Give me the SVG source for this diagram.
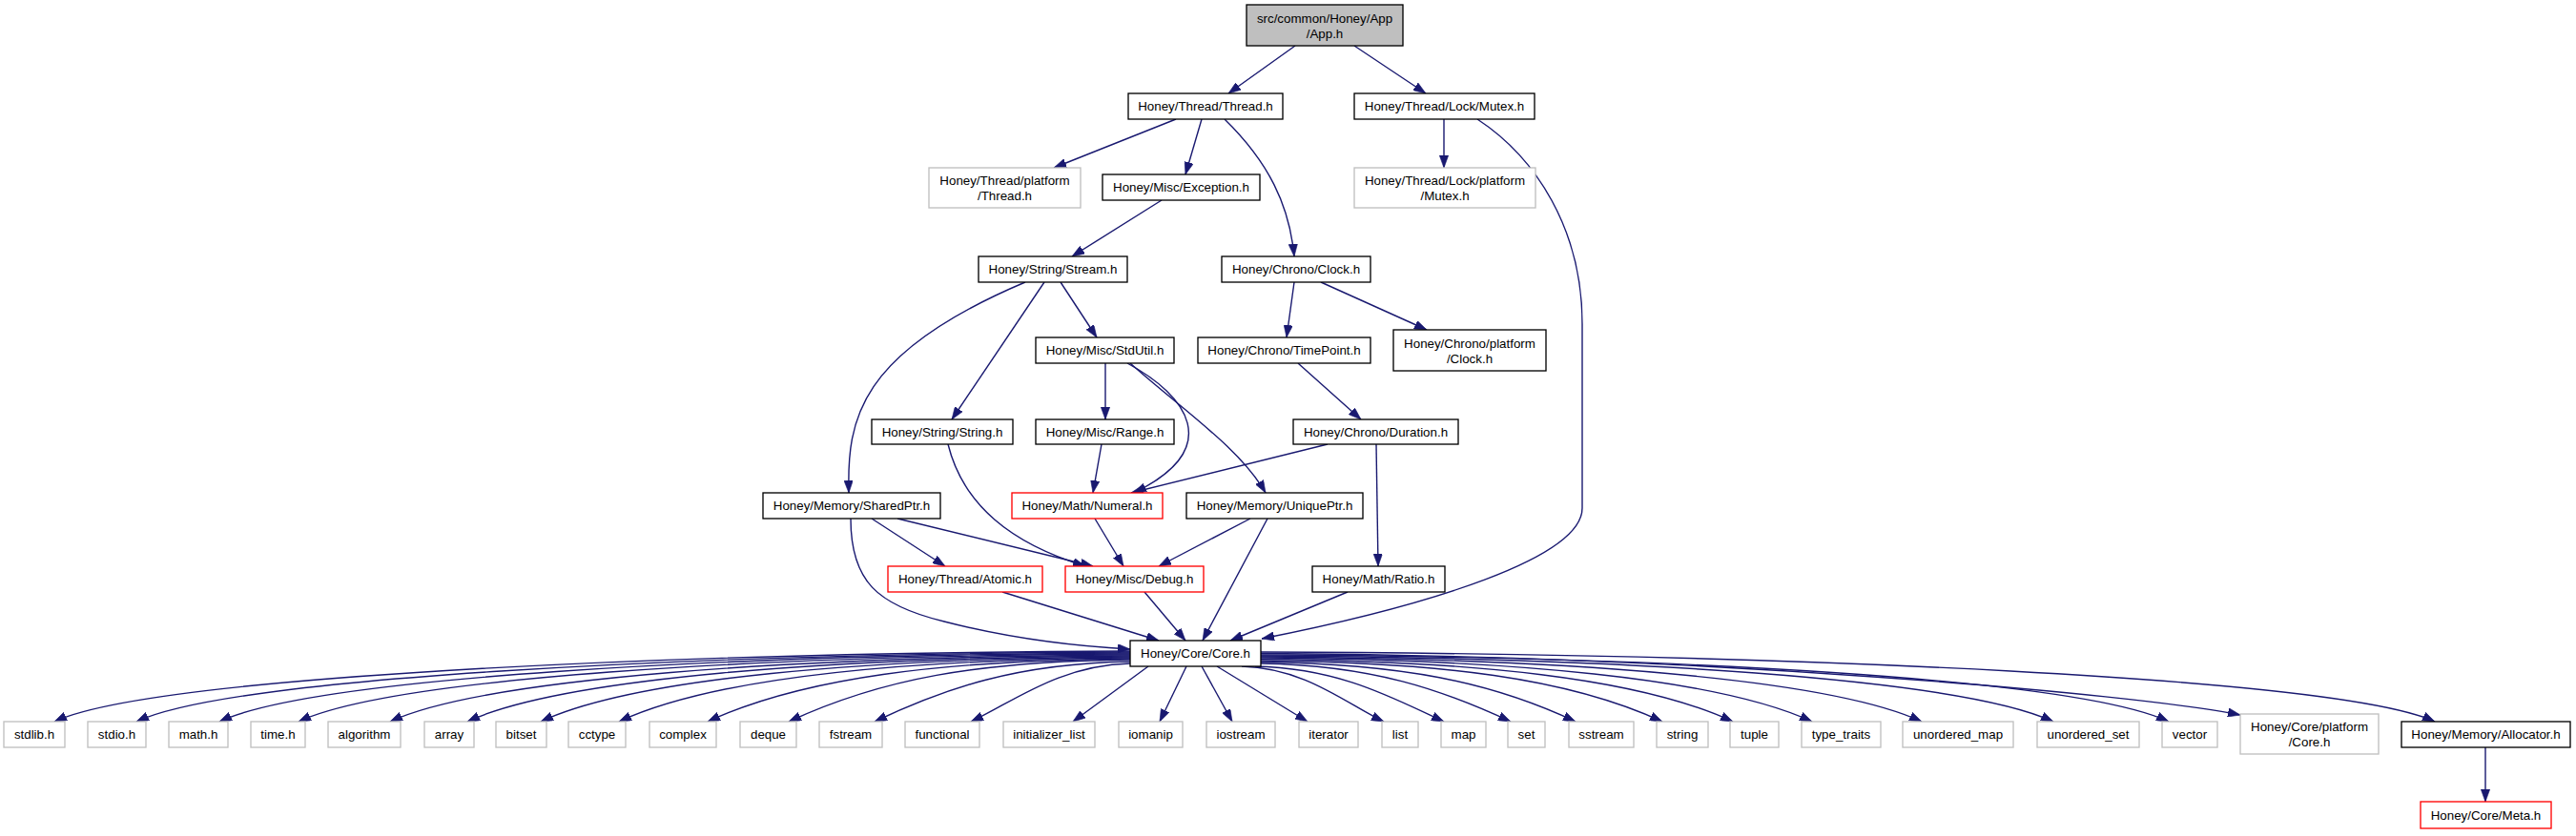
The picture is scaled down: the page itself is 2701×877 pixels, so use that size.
<svg xmlns="http://www.w3.org/2000/svg" width="2701" height="877" viewBox="0 0 2701 877">
<defs>
<marker id="a" viewBox="0 0 13 9.4" refX="13" refY="4.7" markerWidth="13" markerHeight="9.4" markerUnits="userSpaceOnUse" orient="auto">
<path d="M0,0 L13,4.7 L0,9.4 z" fill="#191970" stroke="#191970" stroke-width="0.6"/>
</marker>
</defs>
<style>
rect{fill:#fff;stroke:#000;stroke-width:1.33}
.g rect{stroke:#bfbfbf}
.r rect{stroke:#ff0000}
.top rect{fill:#bfbfbf}
text{font-family:"Liberation Sans",Arial,Helvetica,sans-serif;font-size:13.33px;text-anchor:middle;fill:#000}
#edges path{fill:none;stroke:#191970;stroke-width:1.4;marker-end:url(#a)}
</style>
<rect x="0" y="0" width="2701" height="877" style="fill:#fff;stroke:none"/>
<g id="edges">
<path d="M1358,48 L1288,98"/>
<path d="M1420,48 L1495,98"/>
<path d="M1233,125 L1105,176"/>
<path d="M1260,125 L1243,183"/>
<path d="M1284,125 C1330,170 1352,215 1357,269"/>
<path d="M1514,125 L1514,176"/>
<path d="M1549,125 C1610,165 1659,240 1659,340 L1659,533 C1659,585 1500,635 1323,670"/>
<path d="M1218,210 L1124,269"/>
<path d="M1075,296 C900,370 888,440 890,517"/>
<path d="M1095,296 L998,440"/>
<path d="M1112,296 L1150,354"/>
<path d="M1357,296 L1349,354"/>
<path d="M1385,296 L1496,346"/>
<path d="M1159,381 L1159,440"/>
<path d="M1182,381 C1245,415 1285,470 1189,517"/>
<path d="M1185,381 C1240,430 1300,470 1327,517"/>
<path d="M1361,381 L1427,440"/>
<path d="M994,466 C1010,530 1060,570 1138,594"/>
<path d="M1155,466 L1146,517"/>
<path d="M1392,466 L1186,517"/>
<path d="M1443,466 L1445,594"/>
<path d="M914,544 L991,594"/>
<path d="M941,544 L1146,594"/>
<path d="M892,544 C892,610 920,635 990,652 C1060,670 1130,678 1185,681"/>
<path d="M1148,544 L1178,594"/>
<path d="M1311,544 L1215,594"/>
<path d="M1329,544 L1261,672"/>
<path d="M1051,621 L1215,672"/>
<path d="M1200,621 L1243,672"/>
<path d="M1413,621 L1290,672"/>
<path d="M1185,683 C677,685 156,711 57,757"/>
<path d="M1185,684 C716,686 242,711 143,757"/>
<path d="M1185,685 C755,687 329,711 230,757"/>
<path d="M1185,686 C793,688 412,711 313,757"/>
<path d="M1185,687 C836,689 508,711 409,757"/>
<path d="M1185,688 C872,690 589,711 490,757"/>
<path d="M1185,689 C907,691 666,711 567,757"/>
<path d="M1185,690 C944,692 748,711 649,757"/>
<path d="M1185,691 C986,693 841,711 742,757"/>
<path d="M1185,692 C1024,694 924,712 827,757"/>
<path d="M1185,694 C1064,696 989,723 917,757"/>
<path d="M1185,696 C1110,698 1063,736 1018,757"/>
<path d="M1204,699 L1125,757"/>
<path d="M1244,699 L1216,757"/>
<path d="M1260,699 L1292,757"/>
<path d="M1276,699 L1371,757"/>
<path d="M1302,699 C1369,701 1411,738 1451,757"/>
<path d="M1316,699 C1405,701 1460,732 1514,757"/>
<path d="M1322,696 C1440,698 1513,724 1584,757"/>
<path d="M1322,694.5 C1470,696.5 1563,715 1652,757"/>
<path d="M1322,693 C1511,695 1644,711 1743,757"/>
<path d="M1322,691.5 C1545,693.5 1718,711 1817,757"/>
<path d="M1322,690 C1582,692 1801,711 1900,757"/>
<path d="M1322,689 C1634,691 1916,711 2015,757"/>
<path d="M1322,688 C1696,690 2054,711 2153,757"/>
<path d="M1322,687 C1750,689 2175,711 2274,757"/>
<path d="M1322,685.5 C1784,687.5 2240,728 2349,750"/>
<path d="M1322,684 C1876,686 2454,711 2553,757"/>
<path d="M2606,784 L2606,841"/>
</g>
<g id="app" class="top"><rect x="1307" y="5" width="164" height="43"/><text x="1389" y="24">src/common/Honey/App</text><text x="1389" y="40">/App.h</text></g>
<g id="thread"><rect x="1183" y="98" width="162" height="27"/><text x="1264" y="116.2">Honey/Thread/Thread.h</text></g>
<g id="mutex"><rect x="1420" y="98" width="189" height="27"/><text x="1514.5" y="116.2">Honey/Thread/Lock/Mutex.h</text></g>
<g id="pthread" class="g"><rect x="974" y="176" width="159" height="42"/><text x="1053.5" y="194">Honey/Thread/platform</text><text x="1053.5" y="210">/Thread.h</text></g>
<g id="exception"><rect x="1156" y="183" width="165" height="27"/><text x="1238.5" y="201.2">Honey/Misc/Exception.h</text></g>
<g id="pmutex" class="g"><rect x="1420" y="176" width="190" height="42"/><text x="1515" y="194">Honey/Thread/Lock/platform</text><text x="1515" y="210">/Mutex.h</text></g>
<g id="stream"><rect x="1026" y="269" width="156" height="27"/><text x="1104" y="287.2">Honey/String/Stream.h</text></g>
<g id="clock"><rect x="1281" y="269" width="156" height="27"/><text x="1359" y="287.2">Honey/Chrono/Clock.h</text></g>
<g id="stdutil"><rect x="1086" y="354" width="145" height="27"/><text x="1158.5" y="372.2">Honey/Misc/StdUtil.h</text></g>
<g id="timepoint"><rect x="1256" y="354" width="181" height="27"/><text x="1346.5" y="372.2">Honey/Chrono/TimePoint.h</text></g>
<g id="pclock"><rect x="1461" y="346" width="160" height="43"/><text x="1541" y="365">Honey/Chrono/platform</text><text x="1541" y="381">/Clock.h</text></g>
<g id="string"><rect x="914" y="440" width="148" height="26"/><text x="988" y="457.7">Honey/String/String.h</text></g>
<g id="range"><rect x="1086" y="440" width="145" height="26"/><text x="1158.5" y="457.7">Honey/Misc/Range.h</text></g>
<g id="duration"><rect x="1356" y="440" width="173" height="26"/><text x="1442.5" y="457.7">Honey/Chrono/Duration.h</text></g>
<g id="sharedptr"><rect x="800" y="517" width="186" height="27"/><text x="893" y="535.2">Honey/Memory/SharedPtr.h</text></g>
<g id="numeral" class="r"><rect x="1061" y="517" width="158" height="27"/><text x="1140" y="535.2">Honey/Math/Numeral.h</text></g>
<g id="uniqueptr"><rect x="1244" y="517" width="185" height="27"/><text x="1336.5" y="535.2">Honey/Memory/UniquePtr.h</text></g>
<g id="atomic" class="r"><rect x="931" y="594" width="162" height="27"/><text x="1012" y="612.2">Honey/Thread/Atomic.h</text></g>
<g id="debug" class="r"><rect x="1117" y="594" width="145" height="27"/><text x="1189.5" y="612.2">Honey/Misc/Debug.h</text></g>
<g id="ratio"><rect x="1376" y="594" width="139" height="27"/><text x="1445.5" y="612.2">Honey/Math/Ratio.h</text></g>
<g id="core"><rect x="1185" y="672" width="137" height="27"/><text x="1253.5" y="690.2">Honey/Core/Core.h</text></g>
<g id="stdlib" class="g"><rect x="4" y="757" width="64" height="27"/><text x="36" y="775.2">stdlib.h</text></g>
<g id="stdio" class="g"><rect x="92" y="757" width="61" height="27"/><text x="122.5" y="775.2">stdio.h</text></g>
<g id="math" class="g"><rect x="177" y="757" width="62" height="27"/><text x="208" y="775.2">math.h</text></g>
<g id="time" class="g"><rect x="263" y="757" width="57" height="27"/><text x="291.5" y="775.2">time.h</text></g>
<g id="algorithm" class="g"><rect x="344" y="757" width="76" height="27"/><text x="382" y="775.2">algorithm</text></g>
<g id="array" class="g"><rect x="445" y="757" width="52" height="27"/><text x="471" y="775.2">array</text></g>
<g id="bitset" class="g"><rect x="520" y="757" width="53" height="27"/><text x="546.5" y="775.2">bitset</text></g>
<g id="cctype" class="g"><rect x="596" y="757" width="60" height="27"/><text x="626" y="775.2">cctype</text></g>
<g id="complex" class="g"><rect x="681" y="757" width="70" height="27"/><text x="716" y="775.2">complex</text></g>
<g id="deque" class="g"><rect x="776" y="757" width="59" height="27"/><text x="805.5" y="775.2">deque</text></g>
<g id="fstream" class="g"><rect x="859" y="757" width="66" height="27"/><text x="892" y="775.2">fstream</text></g>
<g id="functional" class="g"><rect x="949" y="757" width="78" height="27"/><text x="988" y="775.2">functional</text></g>
<g id="initializer_list" class="g"><rect x="1052" y="757" width="96" height="27"/><text x="1100" y="775.2">initializer_list</text></g>
<g id="iomanip" class="g"><rect x="1173" y="757" width="67" height="27"/><text x="1206.5" y="775.2">iomanip</text></g>
<g id="iostream" class="g"><rect x="1265" y="757" width="72" height="27"/><text x="1301" y="775.2">iostream</text></g>
<g id="iterator" class="g"><rect x="1362" y="757" width="62" height="27"/><text x="1393" y="775.2">iterator</text></g>
<g id="list" class="g"><rect x="1449" y="757" width="38" height="27"/><text x="1468" y="775.2">list</text></g>
<g id="map" class="g"><rect x="1511" y="757" width="47" height="27"/><text x="1534.5" y="775.2">map</text></g>
<g id="set" class="g"><rect x="1581" y="757" width="39" height="27"/><text x="1600.5" y="775.2">set</text></g>
<g id="sstream" class="g"><rect x="1645" y="757" width="68" height="27"/><text x="1679" y="775.2">sstream</text></g>
<g id="stringstd" class="g"><rect x="1737" y="757" width="54" height="27"/><text x="1764" y="775.2">string</text></g>
<g id="tuple" class="g"><rect x="1814" y="757" width="51" height="27"/><text x="1839.5" y="775.2">tuple</text></g>
<g id="type_traits" class="g"><rect x="1889" y="757" width="83" height="27"/><text x="1930.5" y="775.2">type_traits</text></g>
<g id="unordered_map" class="g"><rect x="1995" y="757" width="116" height="27"/><text x="2053" y="775.2">unordered_map</text></g>
<g id="unordered_set" class="g"><rect x="2136" y="757" width="107" height="27"/><text x="2189.5" y="775.2">unordered_set</text></g>
<g id="vector" class="g"><rect x="2267" y="757" width="58" height="27"/><text x="2296" y="775.2">vector</text></g>
<g id="pcore" class="g"><rect x="2349" y="749" width="145" height="42"/><text x="2421.5" y="767">Honey/Core/platform</text><text x="2421.5" y="783">/Core.h</text></g>
<g id="allocator"><rect x="2518" y="757" width="177" height="27"/><text x="2606.5" y="775.2">Honey/Memory/Allocator.h</text></g>
<g id="meta" class="r"><rect x="2538" y="841" width="137" height="28"/><text x="2606.5" y="859.7">Honey/Core/Meta.h</text></g>
</svg>
